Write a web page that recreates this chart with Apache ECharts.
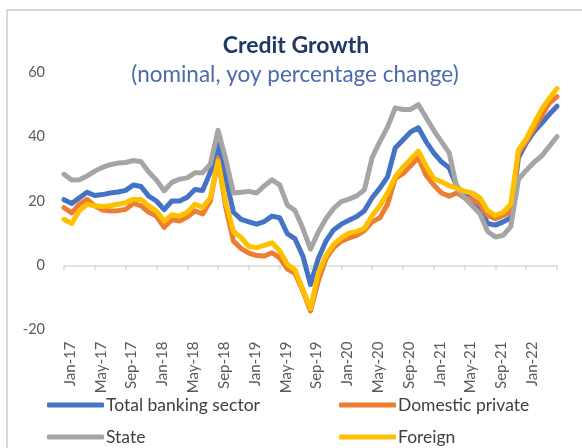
<!DOCTYPE html>
<html>
<head>
<meta charset="utf-8">
<script src="https://cdn.jsdelivr.net/npm/echarts@6/dist/echarts.min.js"></script>
<style>
  html, body { margin: 0; padding: 0; background: #ffffff; }
  #chart { width: 582px; height: 448px; }
</style>
</head>
<body>
<div id="chart"></div>
<script>
// Monthly categories, Jan-2017 to May-2022
const months = [
  'Jan-17','Feb-17','Mar-17','Apr-17','May-17','Jun-17','Jul-17','Aug-17','Sep-17','Oct-17','Nov-17','Dec-17',
  'Jan-18','Feb-18','Mar-18','Apr-18','May-18','Jun-18','Jul-18','Aug-18','Sep-18','Oct-18','Nov-18','Dec-18',
  'Jan-19','Feb-19','Mar-19','Apr-19','May-19','Jun-19','Jul-19','Aug-19','Sep-19','Oct-19','Nov-19','Dec-19',
  'Jan-20','Feb-20','Mar-20','Apr-20','May-20','Jun-20','Jul-20','Aug-20','Sep-20','Oct-20','Nov-20','Dec-20',
  'Jan-21','Feb-21','Mar-21','Apr-21','May-21','Jun-21','Jul-21','Aug-21','Sep-21','Oct-21','Nov-21','Dec-21',
  'Jan-22','Feb-22','Mar-22','Apr-22','May-22'
];

// Category labels printed under the axis
const tickLabels = [
  'Jan-17','May-17','Sep-17','Jan-18','May-18','Sep-18','Jan-19','May-19',
  'Sep-19','Jan-20','May-20','Sep-20','Jan-21','May-21','Sep-21','Jan-22'
];

// Value axis range
const yMin = -20;
const yMax = 60;
const yStep = 20;

// Credit growth, nominal, year-on-year % change
const totalBanking = [
  20.4, 19.2, 21, 22.7, 21.7, 22, 22.5, 22.8, 23.3, 25,
  24.5, 21.5, 20, 17.3, 20, 20, 21.2, 23.6, 23.3, 29,
  37.6, 27, 16.5, 14.3, 13.5, 12.8, 13.6, 15.3, 14.8, 9.8,
  8.2, 2.9, -6, 2, 7.5, 11, 12.8, 14, 15.2, 17,
  21, 24, 27.5, 36.5, 39, 41.5, 42.8, 38.5, 35, 32.2,
  30.3, 24.5, 22, 20.5, 17.5, 13, 12.5, 13.5, 14.8, 33.5,
  38, 41.5, 44.2, 47, 49.5
];

const domesticPrivate = [
  17.9, 16.3, 19, 20.5, 18.5, 17.2, 16.9, 17, 17.4, 19.3,
  18.5, 16.5, 15.3, 11.8, 14.2, 13.8, 15, 16.9, 16, 20,
  33, 18, 7.5, 5.2, 3.8, 3, 2.9, 3.9, 2.3, -1.2,
  -2.5, -8, -14.2, -5, 2, 5.5, 7.5, 8.5, 9.3, 10.8,
  13.5, 14.8, 19, 27, 28.5, 31, 33.5, 28, 25, 22.5,
  21.5, 22.5, 21, 20.5, 19, 15.5, 14.5, 15.5, 16.5, 35,
  38.5, 42.5, 46.5, 50.5, 52.5
];

const stateOwned = [
  28.3, 26.5, 26.6, 27.8, 29.3, 30.5, 31.3, 31.8, 32, 32.6,
  32.2, 29, 26.5, 23.2, 25.8, 26.8, 27.2, 28.8, 28.8, 31.5,
  42, 33, 22.5, 22.7, 23, 22.5, 24.7, 26.6, 25, 18.7,
  17, 11.5, 5, 10.3, 14.5, 17.7, 19.8, 20.6, 21.6, 23.5,
  33.5, 38.5, 43, 49, 48.5, 48.5, 50, 46, 42, 38.5,
  35, 24, 21, 18.5, 16, 10.5, 8.8, 9.3, 12, 26.7,
  29.5, 32, 34, 37, 40
];

const foreignOwned = [
  14.3, 13, 17, 19, 18.5, 18.3, 18.5, 19, 19.5, 20.5,
  20.5, 18.5, 16.9, 13.8, 15.7, 15.3, 16.5, 19, 18, 21,
  32.4, 19.5, 10.5, 8.6, 5.8, 5.5, 6.2, 7, 4.5, 0.3,
  -1.5, -7.5, -13.5, -2.5, 3, 6.5, 8.5, 10, 10.5, 11.5,
  15.5, 18.5, 22.5, 27.5, 30.5, 33, 35.5, 31, 27, 26,
  24.8, 24, 23, 22.5, 21, 17, 15.5, 16.5, 19, 36,
  39.3, 44, 48.5, 52, 55
];

const FONT = 'Lato, "Open Sans", sans-serif';

const seriesDefs = [
  { name: 'Total banking sector', data: totalBanking,    color: '#4472C4' },
  { name: 'Domestic private',     data: domesticPrivate, color: '#ED7D31' },
  { name: 'State',                data: stateOwned,      color: '#A5A5A5' },
  { name: 'Foreign',              data: foreignOwned,    color: '#FFC000' }
];

// Legend slots: two rows, two columns
const legendSlots = [
  { left: 47, top: 396 },
  { left: 339, top: 396 },
  { left: 47, top: 428 },
  { left: 339, top: 428 }
];

const chart = echarts.init(document.getElementById('chart'), null, { renderer: 'canvas' });

const option = {
  animation: false,
  backgroundColor: '#ffffff',
  graphic: [{
    type: 'rect',
    silent: true,
    z: -10,
    shape: { x: 7, y: 10, width: 640, height: 520 },
    style: { fill: 'none', stroke: '#d9d9d9', lineWidth: 2 }
  }],
  title: [
    {
      text: 'Credit Growth',
      left: 296, top: 34, textAlign: 'center', padding: 0,
      textStyle: { fontFamily: FONT, fontSize: 23, fontWeight: 'bold', color: '#203864' }
    },
    {
      text: '(nominal, yoy percentage change)',
      left: 295, top: 63, textAlign: 'center', padding: 0,
      textStyle: { fontFamily: FONT, fontSize: 22.5, fontWeight: 'normal', color: '#4A6BAA' }
    }
  ],
  legend: seriesDefs.map((s, i) => ({
    data: [s.name],
    left: legendSlots[i].left,
    top: legendSlots[i].top,
    padding: 0,
    icon: 'roundRect',
    itemWidth: 57,
    itemHeight: 5,
    selectedMode: false,
    textStyle: { fontFamily: FONT, fontSize: 17.5, color: '#404040', padding: [0, 0, 0, -3] }
  })),
  grid: { left: 64, right: 25, top: 72.5, bottom: 118.5, containLabel: false },
  xAxis: [
    {
      type: 'category',
      data: months,
      boundaryGap: false,
      position: 'bottom',
      axisLine: { show: false, onZero: false },
      axisTick: { show: false },
      splitLine: { show: false },
      axisLabel: {
        rotate: 90,
        interval: (idx, val) => tickLabels.includes(val),
        color: '#595959',
        fontFamily: FONT,
        fontSize: 15,
        verticalAlign: 'top',
        lineHeight: 12,
        margin: 12
      }
    },
    {
      type: 'category',
      data: months,
      boundaryGap: false,
      position: 'bottom',
      axisLine: { show: true, onZero: true, lineStyle: { color: '#d9d9d9', width: 1.5 } },
      axisTick: { show: true, interval: 3, length: 5, lineStyle: { color: '#d9d9d9', width: 1.5 } },
      axisLabel: { show: false },
      splitLine: { show: false }
    }
  ],
  yAxis: {
    type: 'value',
    min: yMin,
    max: yMax,
    interval: yStep,
    axisLine: { show: false },
    axisTick: { show: false },
    splitLine: { show: false },
    axisLabel: { color: '#595959', fontFamily: FONT, fontSize: 14.5, margin: 19 }
  },
  series: seriesDefs.map((s, i) => ({
    name: s.name,
    type: 'line',
    data: s.data,
    xAxisIndex: 0,
    symbol: 'none',
    z: 2 + i,
    color: s.color,
    lineStyle: { width: 5, color: s.color, cap: 'round', join: 'round' }
  }))
};

chart.setOption(option);
</script>
</body>
</html>
